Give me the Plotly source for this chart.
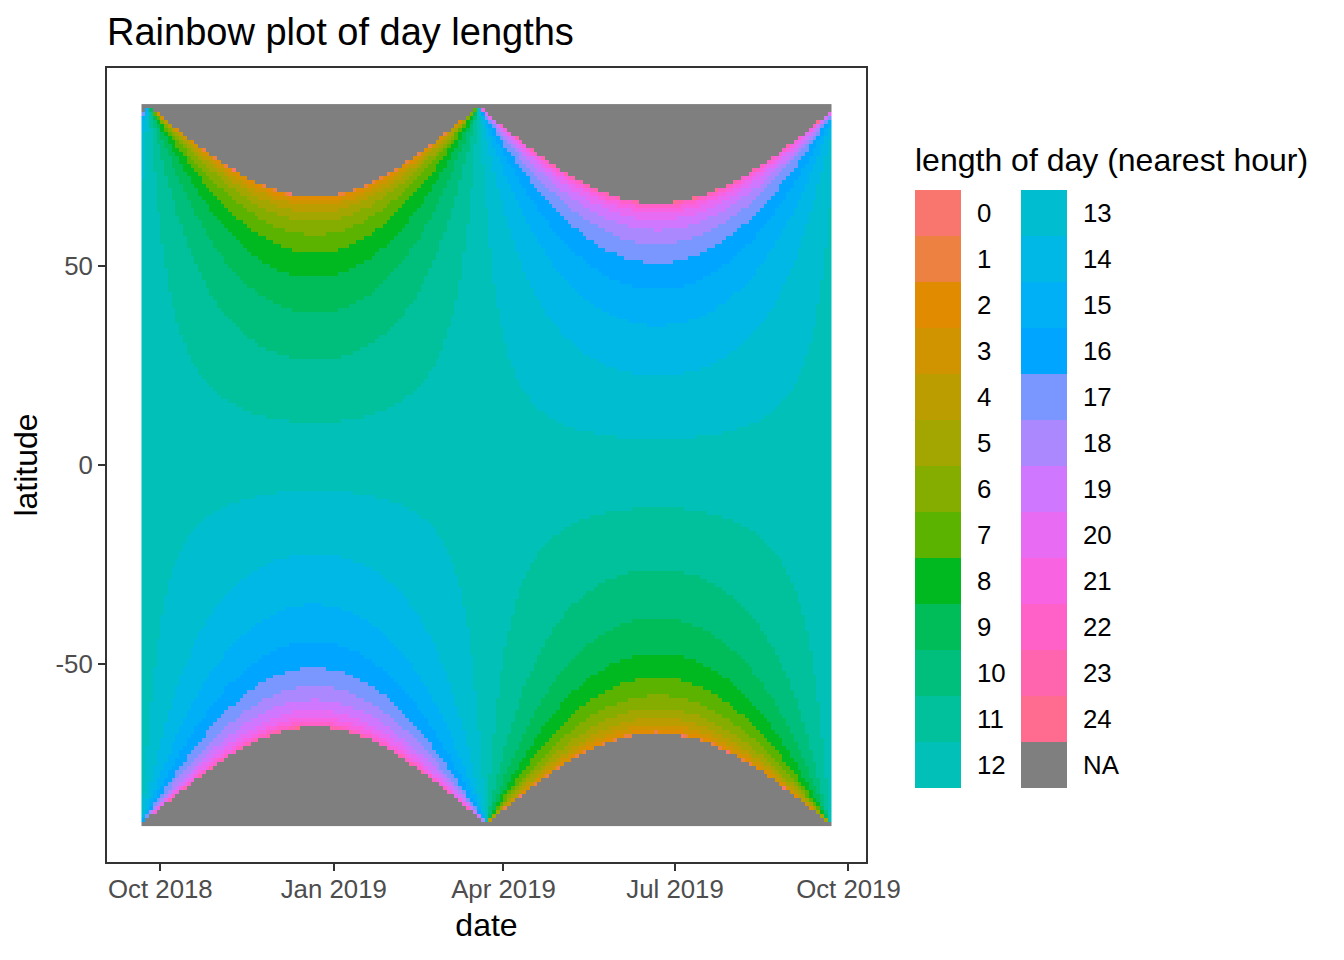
import math
import numpy as np
import pandas as pd
import plotly.graph_objects as go

# ---------------- data definition ----------------
# Grid: one tile every 2 days, one tile per degree of latitude
start_date = "2018-09-22"
end_date = "2019-09-22"
date_step = "2D"
latitudes = list(range(-90, 91))
hour_levels = list(range(0, 25))            # legend categories 0..24, plus NA
sunrise_altitude_deg = -0.833               # sunrise/sunset altitude (refraction)

dates = pd.date_range(start_date, end_date, freq=date_step)
dates = dates[dates < pd.Timestamp(end_date)]

x_tick_dates = ["2018-10-01", "2019-01-01", "2019-04-01", "2019-07-01", "2019-10-01"]
x_tick_labels = ["Oct 2018", "Jan 2019", "Apr 2019", "Jul 2019", "Oct 2019"]
y_tick_vals = [-50, 0, 50]
y_tick_labels = ["-50", "0", "50"]


# ---------------- day length (solar declination, sunrise/sunset) ----------------
def declination(ts):
    rad = math.pi / 180
    jd = ts.to_julian_date() + 0.5  # solar noon UTC
    d = jd - 2451545.0
    M = rad * (357.5291 + 0.98560028 * d)
    C = rad * (1.9148 * math.sin(M) + 0.02 * math.sin(2 * M) + 0.0003 * math.sin(3 * M))
    L = M + C + rad * 102.9372 + math.pi
    e = rad * 23.4397
    return math.asin(math.sin(L) * math.sin(e))


NA_CODE = 25
z = np.full((len(latitudes), len(dates)), float(NA_CODE))
h0 = math.radians(sunrise_altitude_deg)
for j, ts in enumerate(dates):
    dec = declination(ts)
    for i, lat in enumerate(latitudes):
        phi = math.radians(lat)
        denom = math.cos(phi) * math.cos(dec)
        cosH = (math.sin(h0) - math.sin(phi) * math.sin(dec)) / denom
        if abs(cosH) <= 1:
            z[i, j] = float(round(24 / math.pi * math.acos(cosH)))


# ---------------- colours (ggplot2 hue palette) ----------------
def hcl_hex(h, c=100.0, l=65.0):
    WX, WY, WZ = 95.047, 100.000, 108.883
    hr = math.radians(h)
    U, V = c * math.cos(hr), c * math.sin(hr)
    Y = WY * ((l + 16) / 116) ** 3 if l > 7.999592 else WY * l / 903.3
    t = WX + WY + WZ
    x, y = WX / t, WY / t
    uN = 2 * x / (6 * y - x + 1.5)
    vN = 4.5 * y / (6 * y - x + 1.5)
    u = U / (13 * l) + uN
    v = V / (13 * l) + vN
    X = 9.0 * Y * u / (4 * v)
    Z = -X / 3 - 5 * Y + 3 * Y / v
    r = (3.240479 * X - 1.537150 * Y - 0.498535 * Z) / WY
    g = (-0.969256 * X + 1.875992 * Y + 0.041556 * Z) / WY
    b = (0.055648 * X - 0.204043 * Y + 1.057311 * Z) / WY

    def gam(q):
        q = 1.055 * q ** (1 / 2.4) - 0.055 if q > 0.00304 else 12.92 * q
        return int(round(min(max(q, 0), 1) * 255))

    return "#%02X%02X%02X" % (gam(r), gam(g), gam(b))


n = len(hour_levels)
hue_colors = [hcl_hex(15 + 360 * k / n) for k in range(n)]
na_color = "#7F7F7F"
all_colors = hue_colors + [na_color]
ncat = len(all_colors)
colorscale = []
for k, col in enumerate(all_colors):
    colorscale.append([k / ncat, col])
    colorscale.append([(k + 1) / ncat, col])

# ---------------- figure ----------------
W, H = 1344, 960
OFF = 8  # page body margin
PX0, PX1, PY0, PY1 = 107 - OFF, 866 - OFF, 68 - OFF, 862 - OFF


def px(xp):
    return (xp - OFF - PX0) / (PX1 - PX0)


def py(yp):
    return (PY1 - (yp - OFF)) / (PY1 - PY0)


fig = go.Figure()
fig.add_trace(go.Heatmap(
    x=dates, y=latitudes, z=z,
    colorscale=colorscale, zmin=-0.5, zmax=ncat - 0.5,
    showscale=False, hoverinfo="skip",
))

FONT = "Liberation Sans, Arial, Helvetica, sans-serif"
TICK = 25.8
AXT = 32
half = pd.Timedelta(days=1)
x_lo = dates[0] - half
x_hi = dates[-1] + half
span = x_hi - x_lo
xr = [x_lo - span * 0.05, x_hi + span * 0.05]
yspan = 181
yr = [-90.5 - yspan * 0.05, 90.5 + yspan * 0.05]

fig.update_layout(
    width=W, height=H, autosize=False,
    margin=dict(l=PX0, r=W - PX1, t=PY0, b=H - PY1, pad=0),
    paper_bgcolor="white", plot_bgcolor="white",
    font=dict(family=FONT, color="black"),
    title=dict(text="Rainbow plot of day lengths", x=(107 - OFF) / W, xanchor="left",
               xref="container", y=1 - (32 - OFF) / H, yanchor="middle", yref="container",
               font=dict(size=38, color="black")),
    showlegend=False,
)
fig.update_xaxes(
    range=[xr[0], xr[1]], tickvals=pd.to_datetime(x_tick_dates), ticktext=x_tick_labels,
    showgrid=False, zeroline=False, showline=True, mirror=True, linecolor="#333333", linewidth=2,
    ticks="outside", ticklen=7, tickwidth=2, tickcolor="#333333", ticklabelstandoff=-4,
    tickfont=dict(size=TICK, color="#4D4D4D", family=FONT),
    title=dict(text="date", font=dict(size=AXT, color="black"), standoff=12),
)
fig.update_yaxes(
    range=yr, tickvals=y_tick_vals, ticktext=y_tick_labels,
    showgrid=False, zeroline=False, showline=True, mirror=True, linecolor="#333333", linewidth=2,
    ticks="outside", ticklen=7, tickwidth=2, tickcolor="#333333",
    tickfont=dict(size=TICK, color="#4D4D4D", family=FONT),
    title=dict(text="latitude", font=dict(size=AXT, color="black"), standoff=8),
)

# ---------------- legend (two columns of keys) ----------------
shapes, annos = [], []
annos.append(dict(text="length of day (nearest hour)", x=px(913), y=py(160), xref="paper", yref="paper",
                  xanchor="left", yanchor="middle", showarrow=False,
                  font=dict(size=AXT, color="black", family=FONT)))
labels = [str(hv) for hv in hour_levels] + ["NA"]
key = 46
top = 190
for k, (lab, col) in enumerate(zip(labels, all_colors)):
    colidx, row = divmod(k, 13)
    kx0 = 915 + colidx * 106
    ky0 = top + row * key
    shapes.append(dict(type="rect", xref="paper", yref="paper", x0=px(kx0), x1=px(kx0 + key),
                       y0=py(ky0 + key), y1=py(ky0), fillcolor=col, line=dict(width=0), layer="above"))
    annos.append(dict(text=lab, x=px(kx0 + key + 14), y=py(ky0 + key / 2), xref="paper", yref="paper",
                      xanchor="left", yanchor="middle", showarrow=False,
                      font=dict(size=TICK, color="black", family=FONT)))
fig.update_layout(shapes=shapes, annotations=annos)

fig.write_html("out.html")
